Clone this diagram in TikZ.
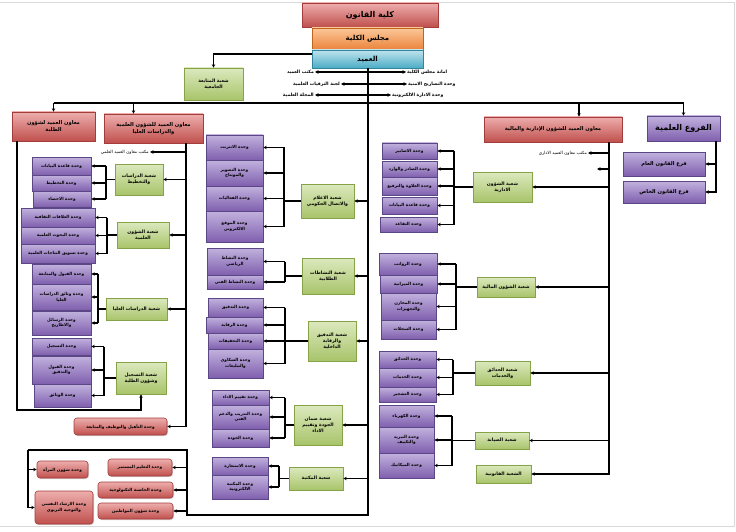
\documentclass[tikz,border=0pt]{standalone}
\usepackage{fontspec}
\usetikzlibrary{arrows.meta,shadows}
\newfontfamily\arf[Script=Arabic]{DejaVu Sans}
\TeXXeTstate=1
\newcommand\ar[1]{\beginR#1\endR}
\definecolor{pu1}{HTML}{C2B2DE}
\definecolor{pu2}{HTML}{7F5FAE}
\definecolor{pud}{HTML}{5C4786}
\definecolor{gr1}{HTML}{DCE9BE}
\definecolor{gr2}{HTML}{A8C46A}
\definecolor{grd}{HTML}{86A347}
\definecolor{rd1}{HTML}{EDAEAD}
\definecolor{rd2}{HTML}{C0504D}
\definecolor{rdd}{HTML}{A33C3A}
\definecolor{or1}{HTML}{FBC899}
\definecolor{or2}{HTML}{EB8239}
\definecolor{ord}{HTML}{C0651E}
\definecolor{bl1}{HTML}{BFE3EC}
\definecolor{bl2}{HTML}{4BACC6}
\definecolor{bld}{HTML}{31859C}
\newcommand\mybox[7]{\node[#2, minimum width={(#5)-(#3)}, minimum height={(#6)-(#4)}] (#1) at ({((#3)+(#5))/2},{((#4)+(#6))/2}) {#7};}
\newcommand\mkgroup[5]{%
  \coordinate (bx) at (#2,0);
  \draw[ln] (#1.west) -- (#1.west -| bx);
  \draw[ln] (#3.east -| bx) -- (#4.east -| bx);
  \foreach \u in {#5} \draw[arr] (\u.east -| bx) -- (\u.east);
}
\begin{document}
\begin{tikzpicture}[x=1pt,y=-1pt,
  ln/.style={line width=1.1pt},
  arr/.style={line width=1.1pt,-{Stealth[length=3.5pt,width=3.5pt]}},
  box/.style={draw, line width=0.6pt, inner sep=0.5pt, align=center,
    font=\arf\bfseries\fontsize{4.2}{5.6}\selectfont,
    drop shadow={shadow xshift=1pt,shadow yshift=-1pt,opacity=.35}},
  unit/.style={box, top color=pu1, bottom color=pu2, draw=pud},
  divb/.style={box, top color=gr1, bottom color=gr2, draw=grd, font=\arf\bfseries\fontsize{4.6}{6.2}\selectfont},
  redb/.style={box, top color=rd1, bottom color=rd2, draw=rdd, font=\arf\bfseries\fontsize{5.2}{6.8}\selectfont},
  redu/.style={box, top color=rd1, bottom color=rd2, draw=rdd, rounded corners=3pt},
  txt/.style={font=\arf\bfseries\fontsize{4.5}{5.5}\selectfont, inner sep=1pt}]
\fill[white] (0,0) rectangle (736,532);
\useasboundingbox (0,0) rectangle (736,532);
\draw[gray!30, line width=0.8pt] (0,2) -- (734,2) -- (734,526) -- (0,526);

% top
\mybox{kul}{redb, font=\arf\bfseries\fontsize{8}{9}\selectfont}{302}{3}{438}{27}{\ar{كلية القانون}}
\mybox{maj}{box, top color=or1, bottom color=or2, draw=ord, font=\arf\bfseries\fontsize{7}{8}\selectfont}{312}{28}{423}{50}{\ar{مجلس الكلية}}
\mybox{dean}{box, top color=bl1, bottom color=bl2, draw=bld, font=\arf\bfseries\fontsize{7}{8}\selectfont}{312}{50}{423}{68}{\ar{العميد}}
\mybox{mut}{divb}{184}{68}{243}{100}{\ar{شعبة المتابعة}\\\ar{الجامعية}}
\draw[arr] ([yshift=5pt]dean.west) -| (mut.north);

\node[txt, anchor=east] (mk) at (315,72) {\ar{مكتب العميد}};
\node[txt, anchor=east] (lj) at (341,84) {\ar{لجنة الترقيات العلمية}};
\node[txt, anchor=east] (mj) at (315,95) {\ar{المجلة العلمية}};
\node[txt, anchor=west] (am) at (406,72) {\ar{امانة مجلس الكلية}};
\node[txt, anchor=west] (ts) at (407,84) {\ar{وحدة التصاريح الامنية}};
\node[txt, anchor=west] (ed) at (391,95) {\ar{وحدة الادارة الالكترونية}};

% assistants
\mybox{stu}{redb}{12}{112}{95}{141}{\ar{معاون العميد لشؤون}\\\ar{الطلبة}}
\mybox{sci}{redb}{104}{114}{203}{143}{\ar{معاون العميد للشؤون العلمية}\\\ar{والدراسات العليا}}
\mybox{adm}{redb}{484}{117}{622}{142}{\ar{معاون العميد للشؤون الإدارية والمالية}}
\mybox{fr}{unit, font=\arf\bfseries\fontsize{8}{9}\selectfont}{647}{116}{720}{141}{\ar{الفروع العلمية}}
\mybox{fam}{unit, font=\arf\bfseries\fontsize{5.2}{6}\selectfont}{623}{152}{705}{176}{\ar{فرع القانون العام}}
\mybox{fkh}{unit, font=\arf\bfseries\fontsize{5.2}{6}\selectfont}{623}{181}{705}{203}{\ar{فرع القانون الخاص}}

% dean vertical and top bar
\coordinate (dv) at (368,515);
\coordinate (c1) at (187,450);
\coordinate (c2) at (28,450);
\coordinate (bar) at (0,103);
\draw[ln] (dean.south -| dv) -- (dv) -| (c1) -- (c2);
\draw[line width=1.6pt] (stu.north |- bar) -- (fr.north |- bar);
\draw[arr] (stu.north |- bar) -- (stu.north);
\draw[arr] ([xshift=-20pt]sci.north |- bar) -- ([xshift=-20pt]sci.north);
\draw[arr] ([xshift=26pt]adm.north |- bar) -- ([xshift=26pt]adm.north);
\draw[arr] (fr.north |- bar) -- (fr.north);
\foreach \t in {mk,lj,mj} \draw[arr] (\t.east -| dv) -- (\t.east);
\foreach \t in {am,ts,ed} \draw[arr] (\t.west -| dv) -- (\t.west);

% branches
\coordinate (bv) at (716,0);
\draw[arr] (fr.south -| bv) |- (fkh.east);
\draw[arr] (fam.east -| bv) -- (fam.east);

% scientific assistant side
\node[txt, anchor=east, font=\arf\fontsize{4.3}{5}\selectfont] (sof) at (150,152) {\ar{مكتب معاون العميد العلمي}};
\mybox{dt}{divb}{115}{164}{163}{195}{\ar{شعبة الدراسات}\\\ar{والتخطيط}}
\mybox{u11}{unit}{32}{157}{91}{175}{\ar{وحدة قاعدة البيانات}}
\mybox{u12}{unit}{32}{175}{91}{191}{\ar{وحدة التخطيط}}
\mybox{u13}{unit}{33}{191}{91}{207}{\ar{وحدة الاحصاء}}
\mybox{sh}{divb}{117}{222}{169}{248}{\ar{شعبة الشؤون}\\\ar{العلمية}}
\mybox{u21}{unit}{21}{208}{95}{227}{\ar{وحدة العلاقات الثقافية}}
\mybox{u22}{unit}{21}{227}{95}{244}{\ar{وحدة البحوث العلمية}}
\mybox{u23}{unit}{21}{244}{95}{263}{\ar{وحدة تسويق النتاجات العلمية}}
\mybox{da}{divb}{106}{298}{167}{320}{\ar{شعبة الدراسات العليا}}
\mybox{u31}{unit}{32}{264}{91}{284}{\ar{وحدة القبول والمتابعة}}
\mybox{u32}{unit}{32}{284}{91}{310}{\ar{وحدة وثائق الدراسات}\\\ar{العليا}}
\mybox{u33}{unit}{32}{311}{91}{335}{\ar{وحدة الرسائل}\\\ar{والاطاريح}}
\mybox{tas}{divb}{116}{362}{166}{394}{\ar{شعبة التسجيل}\\\ar{وشؤون الطلبة}}
\mybox{u41}{unit}{32}{338}{91}{355}{\ar{وحدة التسجيل}}
\mybox{u42}{unit}{32}{356}{91}{384}{\ar{وحدة القبول}\\\ar{والتدقيق}}
\mybox{u43}{unit}{34}{384}{91}{407}{\ar{وحدة الوثائق}}
\mybox{tah}{redu}{74}{418}{167}{435}{\ar{وحدة التأهيل والتوظيف والمتابعة}}

\mkgroup{dt}{106}{u11}{u13}{u11,u12,u13}
\mkgroup{sh}{107}{u21}{u23}{u21,u22,u23}
\mkgroup{da}{98}{u31}{u33}{u31,u32,u33}
\mkgroup{tas}{104}{u41}{u43}{u41,u42,u43}

\coordinate (sv) at (186,0);
\draw[ln] (sci.south -| sv) -- (tah.east -| sv);
\foreach \t in {sof,dt,sh,da,tah} \draw[arr] (\t.east -| sv) -- (\t.east);

\coordinate (sv2) at (17,410);
\draw[arr] (stu.south -| sv2) -- (sv2) -| (tas.south);

% bottom red units
\mybox{tm}{redu}{108}{459}{172}{476}{\ar{وحدة التعليم المستمر}}
\mybox{hd}{redu}{98}{482}{173}{498}{\ar{وحدة الحاضنة التكنولوجية}}
\mybox{mw}{redu}{98}{503}{173}{519}{\ar{وحدة شؤون المواطنين}}
\mybox{mr}{redu}{37}{461}{88}{478}{\ar{وحدة شؤون المرأة}}
\mybox{ir}{redu}{35}{491}{93}{524}{\ar{وحدة الارشاد النفسي}\\\ar{والتوجيه التربوي}}
\draw[arr] (c2) |- (ir.west);
\draw[arr] (mr.west -| c2) -- (mr.west);
\foreach \u in {tm,hd,mw} \draw[arr] (\u.east -| c1) -- (\u.east);

% middle column
\mybox{il}{divb}{301}{184}{354}{218}{\ar{شعبة الاعلام}\\\ar{والاتصال الحكومي}}
\mybox{m11}{unit}{206}{135}{263}{160}{\ar{وحدة الانترنت}}
\mybox{m12}{unit}{206}{160}{263}{186}{\ar{وحدة التصوير}\\\ar{والمونتاج}}
\mybox{m13}{unit}{206}{186}{263}{211}{\ar{وحدة الفعاليات}}
\mybox{m14}{unit}{206}{211}{263}{242}{\ar{وحدة الموقع}\\\ar{الالكتروني}}
\mybox{ns}{divb}{302}{258}{354}{294}{\ar{شعبة النشاطات}\\\ar{الطلابية}}
\mybox{m21}{unit}{207}{248}{263}{275}{\ar{وحدة النشاط}\\\ar{الرياضي}}
\mybox{m22}{unit}{207}{275}{263}{289}{\ar{وحدة النشاط الفني}}
\mybox{td}{divb}{308}{321}{356}{361}{\ar{شعبة التدقيق}\\\ar{والرقابة}\\\ar{الداخلية}}
\mybox{m31}{unit}{208}{298}{263}{317}{\ar{وحدة التدقيق}}
\mybox{m32}{unit}{206}{317}{263}{333}{\ar{وحدة الرقابة}}
\mybox{m33}{unit}{208}{333}{263}{349}{\ar{وحدة التحقيقات}}
\mybox{m34}{unit}{208}{349}{263}{378}{\ar{وحدة الشكاوى}\\\ar{والتبليغات}}
\mybox{jd}{divb}{294}{405}{342}{445}{\ar{شعبة ضمان}\\\ar{الجودة وتقييم}\\\ar{الاداء}}
\mybox{m41}{unit}{212}{390}{269}{405}{\ar{وحدة تقييم الاداء}}
\mybox{m42}{unit}{212}{405}{269}{429}{\ar{وحدة التدريب والدعم}\\\ar{الفني}}
\mybox{m43}{unit}{212}{429}{269}{447}{\ar{وحدة الجودة}}
\mybox{lib}{divb}{289}{467}{343}{490}{\ar{شعبة المكتبة}}
\mybox{m51}{unit}{212}{457}{268}{475}{\ar{وحدة الاستعارة}}
\mybox{m52}{unit}{212}{475}{268}{499}{\ar{وحدة المكتبة}\\\ar{الالكترونية}}

\mkgroup{il}{284}{m11}{m14}{m11,m12,m13,m14}
\mkgroup{ns}{285}{m21}{m22}{m21,m22}
\mkgroup{td}{285}{m31}{m34}{m31,m32,m33,m34}
\mkgroup{jd}{285}{m41}{m43}{m41,m42,m43}
\mkgroup{lib}{279}{m51}{m52}{m51,m52}
\foreach \t in {il,ns,td,jd,lib} \draw[arr] (\t.east -| dv) -- (\t.east);

% admin column
\node[txt, anchor=east, font=\arf\fontsize{4.3}{5}\selectfont] (aof) at (588,153) {\ar{مكتب معاون العميد الاداري}};
\coordinate (stub) at (597,169);
\mybox{ida}{divb}{473}{172}{532}{202}{\ar{شعبة الشؤون}\\\ar{الادارية}}
\mybox{r11}{unit}{382}{143}{437}{159}{\ar{وحدة الاضابير}}
\mybox{r12}{unit}{382}{161}{437}{177}{\ar{وحدة الصادر والوارد}}
\mybox{r13}{unit}{382}{177}{437}{195}{\ar{وحدة العلاوة والترفيع}}
\mybox{r14}{unit}{382}{197}{437}{214}{\ar{وحدة قاعدة البيانات}}
\mybox{r15}{unit}{380}{217}{437}{232}{\ar{وحدة التقاعد}}
\mybox{mal}{divb}{477}{277}{535}{297}{\ar{شعبة الشؤون المالية}}
\mybox{r21}{unit}{379}{253}{437}{275}{\ar{وحدة الرواتب}}
\mybox{r22}{unit}{380}{275}{437}{293}{\ar{وحدة الميزانية}}
\mybox{r23}{unit}{381}{293}{436}{320}{\ar{وحدة المخازن}\\\ar{والتجهيزات}}
\mybox{r24}{unit}{381}{320}{436}{339}{\ar{وحدة السجلات}}
\mybox{had}{divb}{475}{361}{530}{385}{\ar{شعبة الحدائق}\\\ar{والخدمات}}
\mybox{r31}{unit}{379}{351}{436}{368}{\ar{وحدة الحدائق}}
\mybox{r32}{unit}{379}{368}{436}{387}{\ar{وحدة الخدمات}}
\mybox{r33}{unit}{379}{387}{436}{402}{\ar{وحدة التشجير}}
\mybox{sia}{divb}{475}{432}{529}{449}{\ar{شعبة الصيانة}}
\mybox{r41}{unit}{379}{405}{434}{427}{\ar{وحدة الكهرباء}}
\mybox{r42}{unit}{379}{427}{434}{453}{\ar{وحدة التبريد}\\\ar{والتكييف}}
\mybox{r43}{unit}{379}{453}{434}{478}{\ar{وحدة الميكانيك}}
\mybox{qan}{divb}{476}{465}{531}{483}{\ar{الشعبة القانونية}}

\mkgroup{ida}{454}{r11}{r15}{r11,r12,r13,r14,r15}
\mkgroup{mal}{456}{r21}{r24}{r21,r22,r23,r24}
\mkgroup{had}{453}{r31}{r33}{r31,r32,r33}
\mkgroup{sia}{452}{r41}{r43}{r41,r42,r43}

\coordinate (av) at (609,0);
\draw[arr] (adm.south -| av) |- (qan.east);
\foreach \t in {aof,ida,mal,had,sia} \draw[arr] (\t.east -| av) -- (\t.east);
\draw[arr] (stub -| av) -- (stub);
\end{tikzpicture}
\end{document}
